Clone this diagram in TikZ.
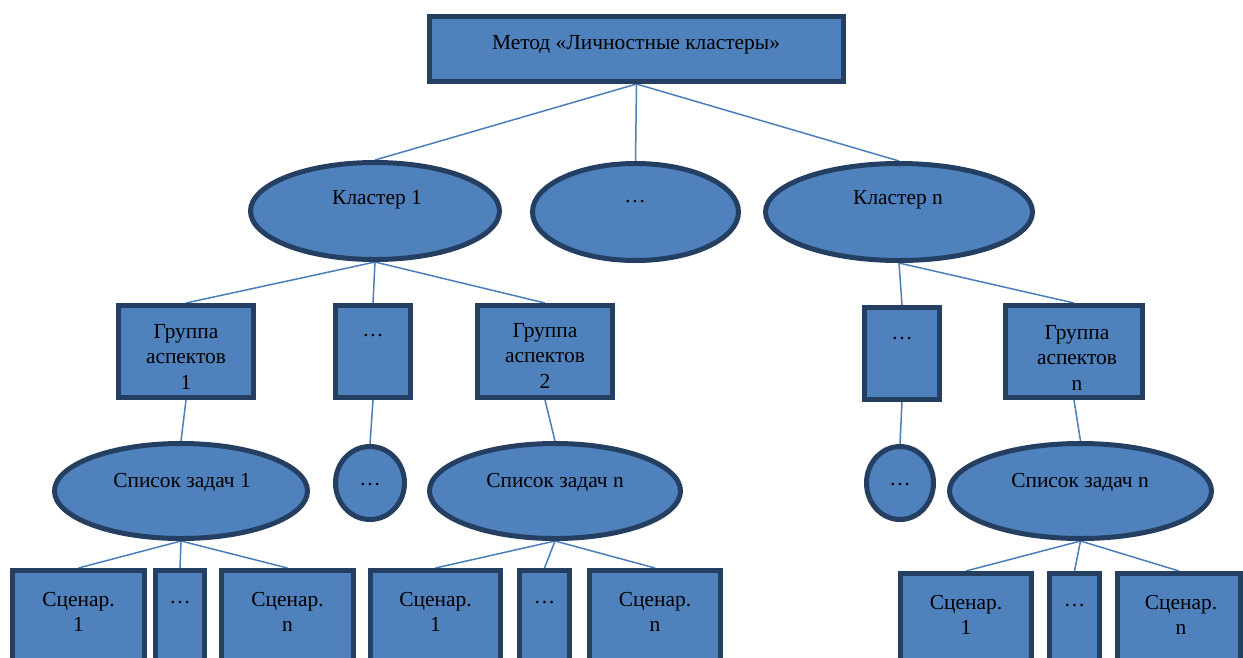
\documentclass[tikz,border=0pt]{standalone}
\usepackage{fontspec}
\setmainfont{Liberation Serif}
\usetikzlibrary{shapes.geometric,backgrounds}
\definecolor{shapefill}{HTML}{4F81BD}
\definecolor{shapeedge}{HTML}{253F62}
\definecolor{linkblue}{HTML}{4A7EBB}
\tikzset{
  base/.style={fill=shapefill, draw=shapeedge, line width=5pt, inner sep=0pt},
  box/.style={base, rectangle},
  oval/.style={base, ellipse},
  txt/.style={align=center, inner sep=0pt, yshift=-2.5pt, font=\fontsize{21.4}{25.5}\selectfont},
  link/.style={draw=linkblue, line width=1.5pt},
}
\begin{document}
\begin{tikzpicture}[x=1pt, y=-1pt]
\clip (0,0) rectangle (1243,657);
\useasboundingbox (0,0) rectangle (1243,657);

% root
\node[box, minimum width=414, minimum height=65] (root) at (636.5,49) {};
\node[txt] (t-root) at (636,42) {Метод «Личностные кластеры»};

% clusters
\node[oval, minimum width=249, minimum height=97] (k1) at (375,211) {};
\node[txt] (t-k1) at (377,197) {Кластер 1};
\node[oval, minimum width=206, minimum height=97] (kd) at (635.5,212) {};
\node[txt] (t-kd) at (635,199) {…};
\node[oval, minimum width=267, minimum height=97] (kn) at (899,212) {};
\node[txt] (t-kn) at (898,197) {Кластер n};

% aspect groups
\node[box, minimum width=135, minimum height=92] (g1) at (186,351.5) {};
\node[txt] (t-g1) at (186,354) {Группа\\аспектов\\1};
\node[box, minimum width=75, minimum height=92] (gd1) at (373,351.5) {};
\node[txt] (t-gd1) at (373,333) {…};
\node[box, minimum width=135, minimum height=92] (g2) at (545,351.5) {};
\node[txt] (t-g2) at (545,353) {Группа\\аспектов\\2};
\node[box, minimum width=75, minimum height=92] (gd2) at (902,353.5) {};
\node[txt] (t-gd2) at (902,336) {…};
\node[box, minimum width=137, minimum height=92] (gn) at (1074,351.5) {};
\node[txt] (t-gn) at (1077,355) {Группа\\аспектов\\n};

% task lists
\node[oval, minimum width=253, minimum height=95] (s1) at (181,491) {};
\node[txt] (t-s1) at (182,480) {Список задач 1};
\node[oval, minimum width=69, minimum height=73] (sd1) at (370,483) {};
\node[txt] (t-sd1) at (370,482) {…};
\node[oval, minimum width=251, minimum height=95] (s2) at (555,491) {};
\node[txt] (t-s2) at (555,480) {Список задач n};
\node[oval, minimum width=67, minimum height=73] (sd2) at (900,483) {};
\node[txt] (t-sd2) at (900,482) {…};
\node[oval, minimum width=262, minimum height=95] (s3) at (1080.5,491) {};
\node[txt] (t-s3) at (1080,480) {Список задач n};

% scenarios
\node[box, minimum width=132, minimum height=127] (c11) at (78.5,634) {};
\node[txt] (t-c11) at (78.5,609.5) {Сценар.\\1};
\node[box, minimum width=49, minimum height=127] (c12) at (180,634) {};
\node[txt] (t-c12) at (180,600) {…};
\node[box, minimum width=132, minimum height=127] (c13) at (287.5,634) {};
\node[txt] (t-c13) at (287.5,609.5) {Сценар.\\n};

\node[box, minimum width=130, minimum height=127] (c21) at (435.5,634) {};
\node[txt] (t-c21) at (435.5,609.5) {Сценар.\\1};
\node[box, minimum width=50, minimum height=127] (c22) at (544.5,634) {};
\node[txt] (t-c22) at (544.5,600) {…};
\node[box, minimum width=131, minimum height=127] (c23) at (655,634) {};
\node[txt] (t-c23) at (655,609.5) {Сценар.\\n};

\node[box, minimum width=131, minimum height=127] (c31) at (966,637) {};
\node[txt] (t-c31) at (966,612.5) {Сценар.\\1};
\node[box, minimum width=50, minimum height=127] (c32) at (1074.5,637) {};
\node[txt] (t-c32) at (1074.5,603) {…};
\node[box, minimum width=123, minimum height=127] (c33) at (1179,637) {};
\node[txt] (t-c33) at (1181,612.5) {Сценар.\\n};

% connectors
\begin{pgfonlayer}{background}
\draw[link] (root.south) -- (k1.north);
\draw[link] (root.south) -- (kd.north);
\draw[link] (root.south) -- (kn.north);
\draw[link] (k1.south) -- (g1.north);
\draw[link] (k1.south) -- (gd1.north);
\draw[link] (k1.south) -- (g2.north);
\draw[link] (kn.south) -- (gd2.north);
\draw[link] (kn.south) -- (gn.north);
\draw[link] (g1.south) -- (s1.north);
\draw[link] (gd1.south) -- (sd1.north);
\draw[link] (g2.south) -- (s2.north);
\draw[link] (gd2.south) -- (sd2.north);
\draw[link] (gn.south) -- (s3.north);
\draw[link] (s1.south) -- (c11.north);
\draw[link] (s1.south) -- (c12.north);
\draw[link] (s1.south) -- (c13.north);
\draw[link] (s2.south) -- (c21.north);
\draw[link] (s2.south) -- (c22.north);
\draw[link] (s2.south) -- (c23.north);
\draw[link] (s3.south) -- (c31.north);
\draw[link] (s3.south) -- (c32.north);
\draw[link] (s3.south) -- (c33.north);
\end{pgfonlayer}
\end{tikzpicture}
\end{document}
